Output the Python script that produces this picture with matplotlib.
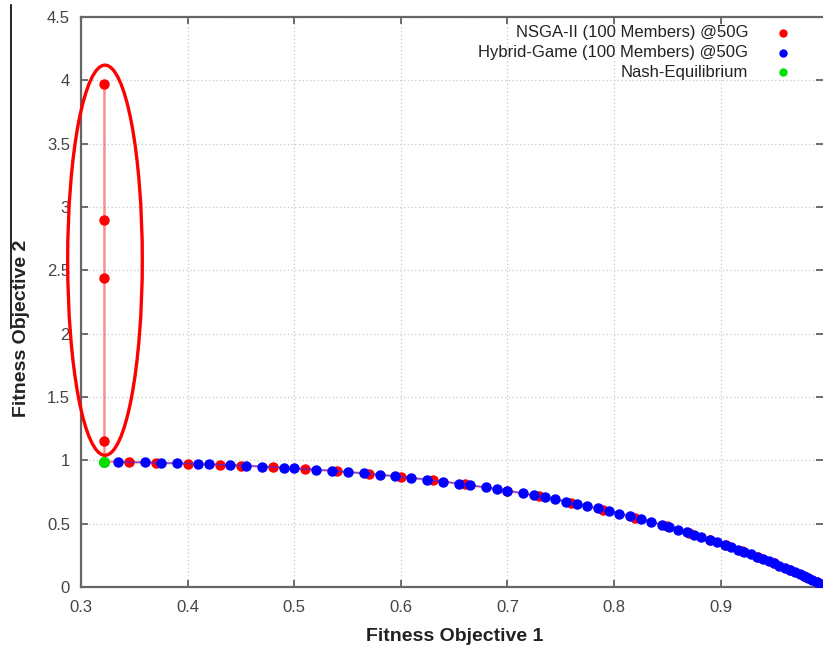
import matplotlib
matplotlib.use("Agg")
import matplotlib.pyplot as plt
from matplotlib.patches import Ellipse
from matplotlib.lines import Line2D

plt.rcParams['font.family'] = ['Liberation Sans', 'DejaVu Sans']

# NSGA-II (100 members) @50G
nsga_x = [0.322, 0.322, 0.322, 0.322, 0.322,
          0.345, 0.37, 0.40, 0.43, 0.45, 0.48, 0.51, 0.54, 0.57, 0.60,
          0.63, 0.66, 0.70, 0.73, 0.76, 0.79, 0.82, 0.85, 0.87, 0.89,
          0.905, 0.92, 0.935, 0.95, 0.965, 0.98, 0.99]
nsga_y = [3.97, 2.90, 2.44, 1.15, 0.99,
          0.986, 0.981, 0.974, 0.966, 0.959, 0.947, 0.932, 0.915, 0.894, 0.870,
          0.842, 0.810, 0.760, 0.716, 0.666, 0.610, 0.548, 0.478, 0.427, 0.373,
          0.329, 0.284, 0.236, 0.186, 0.133, 0.078, 0.039]

# Hybrid-Game (100 members) @50G
hyb_x = [0.335, 0.36, 0.375, 0.39, 0.41, 0.42, 0.44, 0.455, 0.47, 0.49,
         0.50, 0.52, 0.535, 0.55, 0.565, 0.58, 0.595, 0.61, 0.625, 0.64,
         0.655, 0.665, 0.68, 0.69, 0.70, 0.715, 0.725, 0.735, 0.745, 0.755,
         0.765, 0.775, 0.785, 0.795, 0.805, 0.815, 0.825, 0.835, 0.845, 0.852,
         0.86, 0.868, 0.875, 0.882, 0.89, 0.897, 0.904, 0.91, 0.916, 0.922,
         0.928, 0.934, 0.94, 0.945, 0.95, 0.955, 0.96, 0.965, 0.97, 0.974,
         0.978, 0.982, 0.986, 0.99, 0.994]
hyb_y = [0.987, 0.983, 0.980, 0.977, 0.972, 0.969, 0.963, 0.957, 0.951, 0.942,
         0.938, 0.927, 0.918, 0.908, 0.898, 0.887, 0.875, 0.862, 0.847, 0.832,
         0.816, 0.804, 0.786, 0.773, 0.760, 0.739, 0.724, 0.708, 0.692, 0.675,
         0.658, 0.639, 0.620, 0.601, 0.580, 0.559, 0.537, 0.514, 0.490, 0.473,
         0.453, 0.432, 0.414, 0.395, 0.373, 0.353, 0.332, 0.314, 0.296, 0.277,
         0.258, 0.239, 0.219, 0.203, 0.186, 0.168, 0.151, 0.133, 0.115, 0.100,
         0.085, 0.070, 0.055, 0.039, 0.024]

# Nash equilibrium
nash_x = [0.322]
nash_y = [0.99]

legend_labels = ["NSGA-II (100 Members) @50G",
                 "Hybrid-Game (100 Members) @50G",
                 "Nash-Equilibrium"]

xticks = [0.3, 0.4, 0.5, 0.6, 0.7, 0.8, 0.9]
yticks = [0, 0.5, 1, 1.5, 2, 2.5, 3, 3.5, 4, 4.5]

fig = plt.figure(figsize=(8.23, 6.55), dpi=100)
ax = fig.add_axes([81/823, 1 - 587/655, 742/823, 570/655])

ax.plot(nsga_x, nsga_y, color='#ff3030', lw=1.8, alpha=0.55, zorder=2)
ax.plot(nsga_x, nsga_y, ls='none', marker='o', ms=6.5, color='#ff0000',
        mec='#ff0000', zorder=3)
ax.plot(hyb_x, hyb_y, color='#3030ff', lw=1.0, alpha=0.7, zorder=4)
ax.plot(hyb_x, hyb_y, ls='none', marker='o', ms=6.5, color='#0000ff',
        mec='#0000ff', zorder=5)
ax.plot(nash_x, nash_y, ls='none', marker='o', ms=7, color='#00e000',
        mec='#00e000', zorder=6)

ell = Ellipse((0.3225, 2.58), width=0.070, height=3.08, fill=False,
              edgecolor='#ff0000', lw=2.4, clip_on=False, zorder=7)
ax.add_patch(ell)

ax.set_xlim(0.3, 0.996)
ax.set_ylim(0, 4.5)
ax.set_xticks(xticks)
ax.set_xticklabels([f"{v:g}" for v in xticks])
ax.set_yticks(yticks)
ax.set_yticklabels([f"{v:g}" for v in yticks])

ax.grid(True, color='#c8c8c8', ls=(0, (1, 2)), lw=0.9)
ax.set_axisbelow(True)

for side in ['left', 'bottom', 'top']:
    ax.spines[side].set_color('#666666')
    ax.spines[side].set_linewidth(1.6)
ax.spines['right'].set_visible(False)

ax.tick_params(direction='in', length=5, width=1.2, color='#555555',
               labelsize=12, labelcolor='#444444', top=True, right=True)
ax.tick_params(axis='y', pad=8)
ax.tick_params(axis='x', pad=9)

ax.set_xlabel("Fitness Objective 1", fontsize=14, fontweight='bold',
              color='#222222')
ax.set_ylabel("Fitness Objective 2", fontsize=14, fontweight='bold',
              color='#222222')
ax.xaxis.set_label_coords(455/742 - 81/742, -41/570)
ax.yaxis.set_label_coords(-51/742, (587 - 328)/570)

# legend (gnuplot style: right-aligned text, point sample to the right)
leg_colors = ['#ff0000', '#0000ff', '#00e000']
leg_y = [33, 53, 72]
for lab, c, yp in zip(legend_labels, leg_colors, leg_y):
    fy = 1 - yp / 655
    fig.text(748/823, fy, lab, ha='right', va='center', fontsize=12,
             color='#222222')
    fig.add_artist(Line2D([783/823], [fy], marker='o', ms=5, color=c,
                          mec=c, ls='none'))

# stray black line at the left edge of the image
fig.add_artist(Line2D([11/823, 11/823], [1 - 5/655, 1 - 328/655],
                      color='black', lw=1.2))

fig.savefig("out.png", dpi=100)
